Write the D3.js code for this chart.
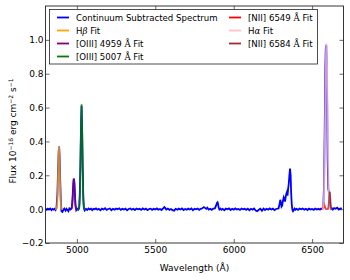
<!DOCTYPE html>
<html>
<head>
<meta charset="utf-8">
<script src="https://cdn.jsdelivr.net/npm/d3@7"></script>
<style>
  body { margin: 0; background: #fff; }
  text { font-family: "DejaVu Sans", sans-serif; }
</style>
</head>
<body>
<div id="chart"></div>
<script>
// continuum subtracted spectrum (wavelength in Å, flux in 1e-16 units)
const specWave = [4800,4808,4815,4822,4830,4838,4845,4852,4858,4864,4870,4876,4880,4884,4887,4890,4894,4898,4902,4908,4914,4920,4928,4934,4940,4946,4952,4958,4963,4968,4972,4976,4980,4983,4987,4991,4996,5002,5008,5014,5019,5023,5027,5030,5033,5037,5041,5045,5050,5058,5066,5074,5082,5090,5098,5106,5114,5122,5130,5140,5150,5160,5170,5180,5190,5200,5210,5220,5230,5240,5250,5260,5270,5280,5290,5300,5310,5320,5330,5340,5350,5360,5370,5380,5390,5400,5410,5420,5430,5440,5450,5460,5470,5480,5490,5500,5510,5520,5530,5540,5550,5558,5564,5570,5580,5590,5600,5610,5620,5630,5640,5650,5660,5670,5680,5690,5700,5710,5720,5730,5740,5750,5760,5770,5780,5790,5800,5810,5818,5825,5832,5840,5850,5860,5870,5880,5888,5893,5897,5900,5904,5909,5915,5922,5930,5940,5950,5960,5970,5980,5990,6000,6010,6020,6030,6040,6050,6060,6070,6080,6090,6100,6110,6120,6130,6140,6150,6160,6170,6180,6190,6200,6210,6220,6230,6240,6250,6260,6270,6280,6286,6292,6297,6301,6305,6309,6314,6319,6323,6327,6331,6335,6339,6343,6347,6351,6355,6359,6363,6366,6370,6374,6378,6383,6388,6394,6400,6410,6420,6430,6440,6450,6460,6470,6480,6490,6500,6510,6520,6530,6540,6550,6558,6565,6571,6576,6580,6584,6587,6590,6593,6596,6599,6603,6607,6610,6613,6616,6620,6625,6632,6640,6650,6660,6670,6680,6690,6700];
const specFlux = [0.002,-0.004,0.003,-0.002,0.004,-0.006,0.001,-0.003,0.002,-0.005,0.008,0.09,0.23,0.34,0.37,0.31,0.16,0.04,-0.012,-0.016,-0.004,0.003,-0.009,0.002,-0.005,-0.012,0.004,-0.002,0.003,0.012,0.06,0.13,0.18,0.17,0.1,0.025,-0.006,0.002,-0.004,0.004,0.1,0.3,0.52,0.61,0.5,0.27,0.07,0.003,-0.008,0.002,-0.005,0.004,-0.002,0.003,-0.006,0.002,-0.001,0.004,-0.003,0.002,-0.007,0.003,-0.002,0.005,-0.004,0.001,0.004,-0.006,0.002,-0.003,0.003,-0.001,0.005,-0.004,0.002,-0.002,0.003,-0.007,0.001,0.004,-0.003,0.002,-0.005,0.003,-0.001,0.002,-0.004,0.004,-0.002,0.003,-0.006,0.001,0.003,-0.004,0.002,-0.002,0.004,-0.003,0.001,-0.005,0.004,0.012,0.006,-0.002,0.003,-0.004,0.001,-0.006,-0.009,0.002,-0.003,0.003,-0.002,0.004,-0.005,0.001,-0.003,0.003,-0.002,0.004,-0.006,0.002,-0.001,0.003,-0.004,0.002,0.005,0.012,0.006,0.002,0.009,-0.003,0.002,-0.004,0.003,0.004,0.022,0.036,0.04,0.03,0.01,-0.002,0.003,-0.004,0.002,-0.006,0.003,-0.001,0.004,-0.005,0.002,-0.003,0.004,-0.002,0.001,-0.005,0.003,-0.001,0.002,-0.004,0.003,-0.006,0.002,-0.003,0.004,-0.008,-0.012,-0.004,0.002,-0.01,0.003,-0.005,0.002,-0.003,0.004,-0.002,0.003,-0.006,0.001,0.003,0.004,0.03,0.055,0.04,0.015,0.02,0.05,0.07,0.06,0.045,0.07,0.09,0.1,0.08,0.12,0.15,0.2,0.24,0.2,0.1,0.03,-0.004,-0.012,-0.006,0.003,-0.003,0.002,-0.004,0.003,-0.001,0.004,-0.003,0.002,-0.005,0.003,-0.002,0.001,-0.004,0.003,-0.002,0.002,-0.003,0.004,0.001,0.012,0.14,0.45,0.82,0.95,0.97,0.88,0.62,0.3,0.12,0.1,0.1,0.06,0.015,0.002,0.005,-0.003,0.006,0.002,0.008,-0.002,0.004,0.003];

// gaussian fits, sampled points [wavelength, flux]
const hbetaFit = [[4861,0],[4866,0],[4871,0.004],[4874,0.021],[4877,0.073],[4880,0.18],[4883,0.309],[4886,0.37],[4889,0.309],[4892,0.18],[4895,0.073],[4898,0.021],[4901,0.004],[4906,0],[4911,0]];
const oiii4959Fit = [[4960,0],[4965,0],[4969,0.007],[4972,0.036],[4975,0.09],[4978,0.155],[4981,0.18],[4984,0.155],[4987,0.09],[4990,0.036],[4993,0.007],[4997,0],[5002,0]];
const oiii5007Fit = [[5005,0],[5010,0],[5015,0.007],[5018,0.035],[5021,0.122],[5024,0.3],[5027,0.518],[5030,0.62],[5033,0.518],[5036,0.3],[5039,0.122],[5042,0.035],[5045,0.007],[5050,0],[5055,0]];
const nii6549Fit = [[6560,0],[6565,0],[6571,0.008],[6574,0.02],[6577,0.028],[6580,0.02],[6583,0.008],[6589,0],[6594,0]];
const halphaFit = [[6563,0],[6568,0],[6572,0.02],[6576,0.1],[6580,0.3],[6583,0.55],[6586,0.8],[6589,0.95],[6591,0.98],[6593,0.95],[6596,0.8],[6599,0.55],[6602,0.3],[6606,0.1],[6610,0.02],[6614,0],[6619,0]];
const nii6584Fit = [[6595,0],[6600,0],[6604,0.012],[6607,0.045],[6610,0.085],[6612,0.1],[6614,0.085],[6617,0.045],[6620,0.012],[6624,0],[6629,0]];

const xTicks = [5000, 5500, 6000, 6500];
const yTicks = [-0.2, 0.0, 0.2, 0.4, 0.6, 0.8, 1.0];

const W = 350, H = 280;
const m = { left: 45.5, right: 343.5, top: 6, bottom: 243 };

const svg = d3.select("#chart").append("svg").attr("width", W).attr("height", H);

const x = d3.scaleLinear().domain([4800, 6700]).range([m.left, m.right]);
const y = d3.scaleLinear().domain([-0.2, 1.2]).range([m.bottom, m.top]);

const line = d3.line().x(d => x(d[0])).y(d => y(d[1]));

const plot = svg.append("g");
plot.append("clipPath").attr("id", "clip").append("rect")
  .attr("x", m.left).attr("y", m.top).attr("width", m.right - m.left).attr("height", m.bottom - m.top);
const g = plot.append("g").attr("clip-path", "url(#clip)");

const spec = specWave.map((w, i) => [w, specFlux[i]]);
g.append("path").datum(spec).attr("d", line)
  .attr("fill", "none").attr("stroke", "#0000ff").attr("stroke-width", 1.8);

// fits drawn on top, slightly transparent
const fits = [
  { data: hbetaFit, color: "orange" },
  { data: oiii4959Fit, color: "purple" },
  { data: oiii5007Fit, color: "green" },
  { data: nii6549Fit, color: "red" },
  { data: halphaFit, color: "pink" },
  { data: nii6584Fit, color: "brown" }
];
fits.forEach(f => {
  g.append("path").datum(f.data).attr("d", line)
    .attr("fill", "none").attr("stroke", f.color).attr("stroke-width", 1.8)
    .attr("stroke-opacity", 0.8);
});

// axes with inward ticks on all sides
const fmtY = d => d3.format(".1f")(d).replace("-", "\u2212");
svg.append("g").attr("transform", `translate(0,${m.bottom})`)
  .call(d3.axisBottom(x).tickValues(xTicks).tickSize(-4).tickPadding(4).tickFormat(d3.format("d")))
  .call(a => a.select(".domain").remove());
svg.append("g").attr("transform", `translate(0,${m.top})`)
  .call(d3.axisTop(x).tickValues(xTicks).tickSize(-4).tickFormat(""))
  .call(a => a.select(".domain").remove());
svg.append("g").attr("transform", `translate(${m.left},0)`)
  .call(d3.axisLeft(y).tickValues(yTicks).tickSize(-4).tickPadding(2).tickFormat(fmtY))
  .call(a => a.select(".domain").remove());
svg.append("g").attr("transform", `translate(${m.right},0)`)
  .call(d3.axisRight(y).tickValues(yTicks).tickSize(-4).tickFormat(""))
  .call(a => a.select(".domain").remove());
svg.selectAll(".tick text").attr("font-size", 9).attr("fill", "#000");
svg.selectAll(".tick line").attr("stroke", "#000").attr("stroke-width", 0.6);

svg.append("rect").attr("x", m.left).attr("y", m.top)
  .attr("width", m.right - m.left).attr("height", m.bottom - m.top)
  .attr("fill", "none").attr("stroke", "#222").attr("stroke-width", 0.9);

// axis labels
svg.append("text").attr("x", (m.left + m.right) / 2).attr("y", 271)
  .attr("text-anchor", "middle").attr("font-size", 9).text("Wavelength (Å)");

const yl = svg.append("text").attr("transform", `translate(16,131) rotate(-90)`)
  .attr("text-anchor", "middle").attr("font-size", 9);
yl.append("tspan").text("Flux 10");
yl.append("tspan").attr("dy", -3.5).attr("font-size", 6).text("\u221216");
yl.append("tspan").attr("dy", 3.5).text(" erg cm");
yl.append("tspan").attr("dy", -3.5).attr("font-size", 6).text("\u22122");
yl.append("tspan").attr("dy", 3.5).text(" s");
yl.append("tspan").attr("dy", -3.5).attr("font-size", 6).text("\u22121");

// legend
const legendItems = [
  { label: ["Continuum Subtracted Spectrum"], color: "#0000ff", col: 0, row: 0 },
  { label: ["H", "β", " Fit"], color: "orange", col: 0, row: 1 },
  { label: ["[OIII] 4959 ", "Å", " Fit"], color: "purple", col: 0, row: 2 },
  { label: ["[OIII] 5007 ", "Å", " Fit"], color: "green", col: 0, row: 3 },
  { label: ["[NII] 6549 ", "Å", " Fit"], color: "red", col: 1, row: 0 },
  { label: ["H", "α", " Fit"], color: "pink", col: 1, row: 1 },
  { label: ["[NII] 6584 ", "Å", " Fit"], color: "brown", col: 1, row: 2 }
];
const lg = svg.append("g");
lg.append("rect").attr("x", 49.5).attr("y", 9.5).attr("width", 268).attr("height", 54.5)
  .attr("fill", "#fff").attr("stroke", "#222").attr("stroke-width", 0.8);
const colX = [57, 229];
legendItems.forEach(it => {
  const ly = 17.5 + it.row * 13;
  const lx = colX[it.col];
  lg.append("line").attr("x1", lx).attr("x2", lx + 12).attr("y1", ly).attr("y2", ly)
    .attr("stroke", it.color).attr("stroke-width", 1.8);
  const t = lg.append("text").attr("x", lx + 19).attr("y", ly + 3.2).attr("font-size", 8.6);
  it.label.forEach((s, i) => {
    const ts = t.append("tspan").text(s);
    // greek letters in italic serif, angstrom sign upright serif (math text)
    if (i === 1) {
      ts.attr("font-family", "DejaVu Serif");
      if (s !== "Å") ts.attr("font-style", "italic");
    }
  });
});
</script>
</body>
</html>
